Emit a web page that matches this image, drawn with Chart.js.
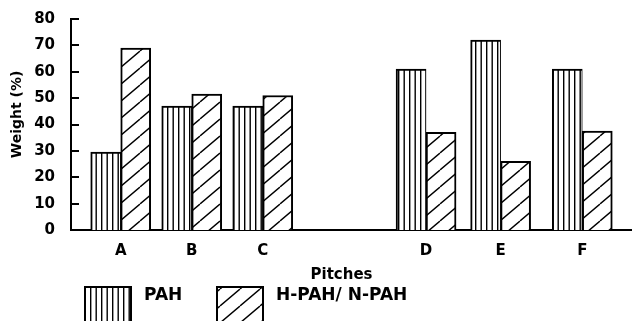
<!DOCTYPE html>
<html>
<head>
<meta charset="utf-8">
<script src="https://cdn.jsdelivr.net/npm/chart.js@4.4.0/dist/chart.umd.min.js"></script>
<style>
  html, body { margin: 0; padding: 0; background: #fff; }
  #wrap { position: relative; width: 632px; height: 321px; }
</style>
</head>
<body>
<div id="wrap"><canvas id="myChart"></canvas></div>
<script>
const pitches = ["A", "B", "C", "D", "E", "F"];
// place of each pitch along x (the figure leaves a gap after C)
const pitchPos = [1, 2, 3, 5.3, 6.35, 7.5];
const pah = [29.5, 47, 47, 61, 72, 61];
const hpah = [69, 51.5, 51, 37, 26, 37.5];
const weightTicks = [0, 10, 20, 30, 40, 50, 60, 70, 80];

const FONT = "'DejaVu Sans', sans-serif";

function vertPattern() {
  const c = document.createElement("canvas");
  c.width = 11;
  c.height = 10;
  const g = c.getContext("2d");
  g.fillStyle = "#fff";
  g.fillRect(0, 0, c.width, c.height);
  g.fillStyle = "#000";
  g.fillRect(2, 0, 1.4, 10);
  g.fillRect(7.5, 0, 1.4, 10);
  return g.createPattern(c, "repeat");
}

function hatchPattern() {
  const c = document.createElement("canvas");
  const w = 20, h = 17;
  c.width = w;
  c.height = h;
  const g = c.getContext("2d");
  g.fillStyle = "#fff";
  g.fillRect(0, 0, w, h);
  g.strokeStyle = "#000";
  g.lineWidth = 1.4;
  g.beginPath();
  for (let k = -1; k <= 1; k++) {
    g.moveTo(k * w, h);
    g.lineTo(k * w + w, 0);
  }
  g.stroke();
  return g.createPattern(c, "repeat");
}

const toPoints = (vals) => vals.map((v, i) => ({ x: pitchPos[i], y: v }));

// inner tick marks, axis titles and the legend of the original figure
const extras = {
  id: "extras",
  afterDraw(chart) {
    const ctx = chart.ctx;
    const area = chart.chartArea;
    const y = chart.scales.y;
    ctx.save();
    ctx.strokeStyle = "#000";
    ctx.lineWidth = 2;
    weightTicks.forEach((t) => {
      const py = Math.round(y.getPixelForValue(t));
      ctx.beginPath();
      ctx.moveTo(area.left, py);
      ctx.lineTo(area.left + 8, py);
      ctx.stroke();
    });

    ctx.fillStyle = "#000";
    ctx.font = "bold 14px " + FONT;
    ctx.save();
    ctx.translate(21, 114.5);
    ctx.rotate(-Math.PI / 2);
    ctx.textAlign = "center";
    ctx.textBaseline = "alphabetic";
    ctx.fillText("Weight (%)", 0, 0);
    ctx.restore();

    ctx.font = "bold 15px " + FONT;
    ctx.textAlign = "center";
    ctx.textBaseline = "alphabetic";
    ctx.fillText("Pitches", 341.5, 279);

    const slots = [85, 217];
    ctx.font = "bold 17px " + FONT;
    ctx.textAlign = "left";
    chart.data.datasets.forEach((ds, i) => {
      const x = slots[i];
      ctx.fillStyle = ds.backgroundColor;
      ctx.fillRect(x, 287, 46, 40);
      ctx.lineWidth = 2;
      ctx.strokeRect(x, 287, 46, 40);
      ctx.fillStyle = "#000";
      ctx.fillText(ds.label, x + 59, 300);
    });
    ctx.restore();
  },
};

const ctx = document.getElementById("myChart");

new Chart(ctx, {
  type: "bar",
  data: {
    datasets: [
      {
        label: "PAH",
        data: toPoints(pah),
        backgroundColor: vertPattern(),
        borderColor: "#000",
        borderWidth: { top: 2, left: 2, right: 1, bottom: 0 },
      },
      {
        label: "H-PAH/ N-PAH",
        data: toPoints(hpah),
        backgroundColor: hatchPattern(),
        borderColor: "#000",
        borderWidth: { top: 2, left: 2, right: 2, bottom: 0 },
      },
    ],
  },
  options: {
    responsive: true,
    maintainAspectRatio: false,
    animation: false,
    barThickness: 30,
    layout: { padding: { top: 19, left: 0, right: 0, bottom: 0 } },
    plugins: {
      legend: { display: false },
      tooltip: { enabled: false },
    },
    scales: {
      x: {
        type: "linear",
        offset: false,
        min: 0.3,
        max: 8.2,
        grid: { display: false },
        border: { display: true, color: "#000", width: 2 },
        afterBuildTicks: (scale) => {
          scale.ticks = pitchPos.map((v) => ({ value: v }));
        },
        afterFit: (scale) => {
          scale.height = 91;
        },
        ticks: {
          autoSkip: false,
          maxRotation: 0,
          padding: 4,
          color: "#000",
          font: { family: FONT, size: 15, weight: "bold" },
          callback: (val, i) => pitches[i],
        },
      },
      y: {
        min: 0,
        max: 80,
        grid: { display: false },
        border: { display: true, color: "#000", width: 2 },
        afterFit: (scale) => {
          scale.width = 71;
        },
        ticks: {
          stepSize: 10,
          padding: 8,
          color: "#000",
          font: { family: FONT, size: 15, weight: "bold" },
        },
      },
    },
  },
  plugins: [extras],
});
</script>
</body>
</html>
